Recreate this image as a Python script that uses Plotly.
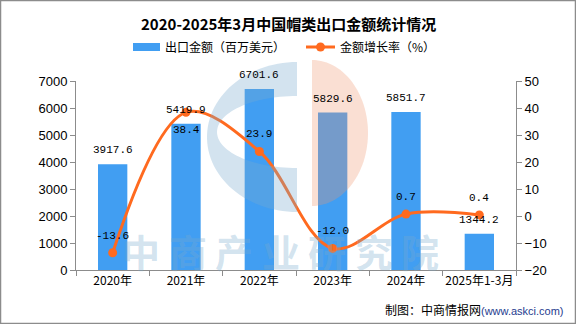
import numpy as np
import plotly.graph_objects as go

# Data
years = ["2020年", "2021年", "2022年", "2023年", "2024年", "2025年1-3月"]
export_value = [3917.6, 5419.9, 6701.6, 5829.6, 5851.7, 1344.2]   # 百万美元
growth_rate = [-13.6, 38.4, 23.9, -12.0, 0.7, 0.4]               # %
growth_label_pos = ["top", "bottom", "top", "top", "top", "top"]

W, H = 576, 324
L, R, T, B = 76, 60, 81, 54
PW, PH = W - L - R, H - T - B

BAR_COLOR = "#419EF2"
LINE_COLOR = "#FF6A1F"
CJK = "Noto Sans CJK SC"
MONO = "Liberation Mono"


def px(x):
    return (x - L) / PW


def py(y):
    return (H - B - y) / PH


def poly_path(points):
    s = "M " + " L ".join(f"{px(x):.5f},{py(y):.5f}" for x, y in points)
    return s + " Z"


fig = go.Figure()

fig.add_trace(go.Bar(
    x=years, y=export_value, name="出口金额（百万美元）",
    marker=dict(color=BAR_COLOR, line=dict(width=0)),
    width=0.4, yaxis="y", showlegend=False,
))

fig.add_trace(go.Scatter(
    x=years, y=growth_rate, name="金额增长率（%）", yaxis="y2",
    mode="lines+markers",
    line=dict(color=LINE_COLOR, width=3, shape="spline", smoothing=1.0),
    marker=dict(color=LINE_COLOR, size=9),
    showlegend=False, cliponaxis=False,
))

annotations = []
# value labels above bars
for cat, v in zip(years, export_value):
    annotations.append(dict(
        x=cat, y=v, xref="x", yref="y", text=f"{v:.1f}", showarrow=False,
        yanchor="middle", yshift=14,
        font=dict(family=MONO, size=11, color="#000000"),
    ))
# growth labels
for cat, v, pos in zip(years, growth_rate, growth_label_pos):
    annotations.append(dict(
        x=cat, y=v, xref="x", yref="y2", text=f"{v:.1f}", showarrow=False,
        yanchor="middle", yshift=17 if pos == "top" else -18,
        font=dict(family=MONO, size=11, color="#000000"),
    ))

# title
annotations.append(dict(
    x=px(288), y=py(24), xref="paper", yref="paper", showarrow=False,
    text="<b>2020-2025年3月中国帽类出口金额统计情况</b>",
    font=dict(family=CJK, size=15, color="#000000"),
    xanchor="center", yanchor="middle",
))

# legend (drawn manually)
annotations.append(dict(
    x=px(163), y=py(47), xref="paper", yref="paper", showarrow=False,
    text="出口金额（百万美元）", xanchor="left", yanchor="middle",
    font=dict(family=CJK, size=12, color="#000000"),
))
annotations.append(dict(
    x=px(338), y=py(47), xref="paper", yref="paper", showarrow=False,
    text="金额增长率（%）", xanchor="left", yanchor="middle",
    font=dict(family=CJK, size=12, color="#000000"),
))

# footer
annotations.append(dict(
    x=px(566), y=py(309), xref="paper", yref="paper", showarrow=False,
    xanchor="right", yanchor="middle",
    text="制图：中商情报网<span style='color:#1F3C8F;font-family:Liberation Sans;font-size:11px'>(www.askci.com)</span>",
    font=dict(family=CJK, size=12, color="#000000"),
))

# watermark text
wm_chars = list("中商产业研究院")
for i, ch in enumerate(wm_chars):
    annotations.append(dict(
        x=px(141 + 46.5 * i), y=py(250), xref="paper", yref="paper",
        showarrow=False, text=f"<b>{ch}</b>",
        font=dict(family=CJK, size=38, color="rgba(120,170,205,0.33)"),
        xanchor="center", yanchor="middle",
    ))

shapes = []
# legend marks
shapes.append(dict(type="rect", xref="paper", yref="paper",
                   x0=px(133), x1=px(160), y0=py(51), y1=py(43),
                   fillcolor=BAR_COLOR, line=dict(width=0)))
shapes.append(dict(type="line", xref="paper", yref="paper",
                   x0=px(306), x1=px(335), y0=py(47), y1=py(47),
                   line=dict(color=LINE_COLOR, width=3)))
shapes.append(dict(type="circle", xref="paper", yref="paper",
                   x0=px(316), x1=px(325), y0=py(51.5), y1=py(42.5),
                   fillcolor=LINE_COLOR, line=dict(width=0)))

# logo watermark: blue crescent + peach half disc
t_out = np.linspace(np.pi / 2, 3 * np.pi / 2, 60)
outer = [(297 + 90 * np.cos(t), 137 - 75 * np.sin(t)) for t in t_out]
t_in = np.linspace(3 * np.pi / 2, np.pi / 2, 60)
inner = [(297 + 80 * np.cos(t), 132 - 36 * np.sin(t)) for t in t_in]
shapes.append(dict(type="path", xref="paper", yref="paper",
                   path=poly_path(outer + inner),
                   fillcolor="rgba(120,170,205,0.33)", line=dict(width=0)))
t_p = np.linspace(np.pi / 2, -np.pi / 2, 60)
peach = [(312 + 56 * np.cos(t), 133 - 73 * np.sin(t)) for t in t_p]
shapes.append(dict(type="path", xref="paper", yref="paper",
                   path=poly_path(peach),
                   fillcolor="rgba(240,150,110,0.30)", line=dict(width=0)))

# outer frame
shapes.append(dict(type="rect", xref="paper", yref="paper",
                   x0=px(0.5), x1=px(W - 0.5), y0=py(H - 0.5), y1=py(0.5),
                   line=dict(color="#8C8C8C", width=1.5), fillcolor="rgba(0,0,0,0)"))

axis_font = dict(family="Liberation Sans", size=13, color="#000000")

fig.update_layout(
    width=W, height=H,
    margin=dict(l=L, r=R, t=T, b=B, pad=0, autoexpand=False),
    paper_bgcolor="white", plot_bgcolor="white",
    bargap=0.6,
    xaxis=dict(
        type="category", showline=True, linecolor="#8C8C8C", linewidth=1,
        ticks="outside", ticklen=5, tickcolor="#8C8C8C", tickson="boundaries",
        showgrid=False, tickfont=dict(family=CJK, size=12, color="#000000"),
        tickangle=0, automargin=False, fixedrange=True,
    ),
    yaxis=dict(
        range=[0, 7000], dtick=1000, showline=True, linecolor="#8C8C8C",
        linewidth=1, ticks="outside", ticklen=5, tickcolor="#8C8C8C",
        showgrid=False, zeroline=False, tickfont=axis_font, automargin=False,
    ),
    yaxis2=dict(
        range=[-20, 50], dtick=10, overlaying="y", side="right",
        showline=True, linecolor="#8C8C8C", linewidth=1, ticks="outside",
        ticklen=5, tickcolor="#8C8C8C", showgrid=False, zeroline=False,
        tickfont=axis_font, automargin=False,
    ),
    annotations=annotations,
    shapes=shapes,
    showlegend=False,
)

fig.write_html("out.html")
